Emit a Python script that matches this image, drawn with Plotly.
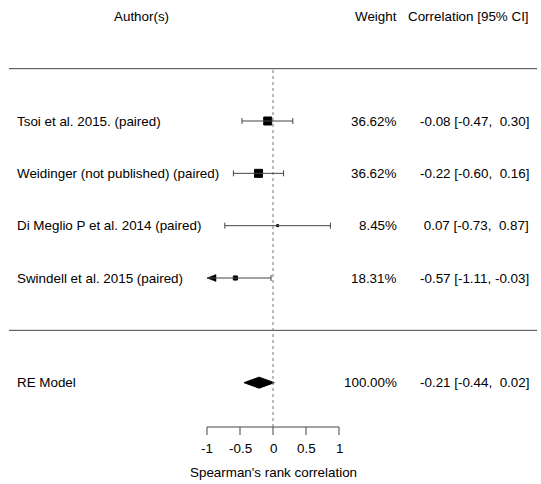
import plotly.graph_objects as go

# ---- data ----
studies = ["Tsoi et al. 2015. (paired)", "Weidinger (not published) (paired)",
           "Di Meglio P et al. 2014 (paired)", "Swindell et al. 2015 (paired)"]
estimates = [-0.08, -0.22, 0.07, -0.57]
ci_lower = [-0.47, -0.60, -0.73, -1.11]
ci_upper = [0.30, 0.16, 0.87, -0.03]
weights = [36.62, 36.62, 8.45, 18.31]
re_label = "RE Model"
re_est, re_lo, re_hi, re_weight = -0.21, -0.44, 0.02, 100.00
tick_vals = [-1, -0.5, 0, 0.5, 1]
tick_text = ["-1", "-0.5", "0", "0.5", "1"]
x_title = "Spearman's rank correlation"
headers = ["Author(s)", "Weight", "Correlation [95% CI]"]

# ---- layout geometry ----
W, H = 541, 484
x0px, ppu = 273.0, 66.0          # pixel of x=0, pixels per unit
row1px, rowpx = 278.0, 52.33      # pixel of row 1, pixels per row
xr = [-x0px / ppu, (W - x0px) / ppu]
yr = [1 - (H - row1px) / rowpx, 1 + row1px / rowpx]
px_x = lambda p: (p - x0px) / ppu
px_y = lambda p: 1 - (p - row1px) / rowpx
dx = 1 / ppu
dy = 1 / rowpx

k = len(studies)
rows = list(range(k, 0, -1))
re_row = -1
alim = (tick_vals[0], tick_vals[-1])

FONT = "Liberation Sans, Arial, sans-serif"
FS = 13.4
LINE = "#444"

fig = go.Figure()
shapes = []
ann = []

def line(x1, y1, x2, y2, color=LINE, width=1, dash=None):
    d = dict(type="line", x0=x1, y0=y1, x1=x2, y1=y2, xref="x", yref="y",
             line=dict(color=color, width=width))
    if dash:
        d["line"]["dash"] = dash
    shapes.append(d)

def text(x, y, s, anchor="left"):
    ann.append(dict(x=x, y=y, xref="x", yref="y", text=s, showarrow=False,
                    xanchor=anchor, yanchor="middle", borderpad=0, borderwidth=0,
                    font=dict(family=FONT, size=FS, color="black")))

def fmt(v):
    s = f"{v:.2f}"
    return ("&nbsp;" + s) if v >= 0 else s

# horizontal separators
line(px_x(9), k + 1, px_x(537), k + 1)
line(px_x(9), 0, px_x(537), 0)

# axis
axis_y = px_y(427)
line(alim[0], axis_y, alim[1], axis_y)
for tv, tt in zip(tick_vals, tick_text):
    line(tv, axis_y, tv, axis_y - 8 * dy)
    text(tv, px_y(448), tt, "center")
text(0, px_y(472), x_title, "center")

# reference line
line(0, axis_y, 0, k + 1, color="#777", width=1, dash="dot")

# study CIs
cap = 3 * dy
wmin, wmax = min(weights), max(weights)
sizes = [2 + 6 * (w - wmin) / (wmax - wmin) for w in weights]
for r, e, lo, hi in zip(rows, estimates, ci_lower, ci_upper):
    lo_c = max(lo, alim[0])
    hi_c = min(hi, alim[1])
    line(lo_c, r, hi_c, r)
    if lo >= alim[0]:
        line(lo, r - cap, lo, r + cap)
    else:
        fig.add_trace(go.Scatter(
            x=[alim[0], alim[0] + 9 * dx, alim[0] + 9 * dx, alim[0]],
            y=[r, r + 3.5 * dy, r - 3.5 * dy, r],
            fill="toself", fillcolor="black", mode="lines",
            line=dict(color="black", width=0.5), hoverinfo="skip", showlegend=False))
    if hi <= alim[1]:
        line(hi, r - cap, hi, r + cap)
    else:
        fig.add_trace(go.Scatter(
            x=[alim[1], alim[1] - 9 * dx, alim[1] - 9 * dx, alim[1]],
            y=[r, r + 3.5 * dy, r - 3.5 * dy, r],
            fill="toself", fillcolor="black", mode="lines",
            line=dict(color="black", width=0.5), hoverinfo="skip", showlegend=False))

fig.add_trace(go.Scatter(
    x=estimates, y=rows, mode="markers",
    marker=dict(symbol="square", size=sizes, color="black", opacity=1,
                line=dict(width=1, color="black")),
    hoverinfo="skip", showlegend=False))

# RE diamond
hh = 5.5 * dy
fig.add_trace(go.Scatter(
    x=[re_lo, re_est, re_hi, re_est, re_lo],
    y=[re_row, re_row + hh, re_row, re_row - hh, re_row],
    fill="toself", fillcolor="black", mode="lines",
    line=dict(color="black", width=1), hoverinfo="skip", showlegend=False))

# texts
left_x = px_x(17)
w_x = px_x(397)
ci_x = px_x(529)
for r, s, w, e, lo, hi in zip(rows, studies, weights, estimates, ci_lower, ci_upper):
    text(left_x, r, s, "left")
    text(w_x, r, f"{w:.2f}%", "right")
    text(ci_x, r, f"{fmt(e)} [{fmt(lo)}, {fmt(hi)}]", "right")
text(left_x, re_row, re_label, "left")
text(w_x, re_row, f"{re_weight:.2f}%", "right")
text(ci_x, re_row, f"{fmt(re_est)} [{fmt(re_lo)}, {fmt(re_hi)}]", "right")

hdr_y = k + 2
text(px_x(141), hdr_y, headers[0], "center")
text(w_x, hdr_y, headers[1], "right")
text(ci_x, hdr_y, headers[2], "right")

fig.update_layout(
    width=W, height=H, margin=dict(l=0, r=0, t=0, b=0),
    paper_bgcolor="white", plot_bgcolor="white",
    xaxis=dict(range=xr, visible=False, fixedrange=True),
    yaxis=dict(range=yr, visible=False, fixedrange=True),
    shapes=shapes, annotations=ann, showlegend=False,
)
fig.write_html("out.html", config={"displayModeBar": False},
               post_script="document.body.style.margin='0';document.body.style.overflow='hidden';")
